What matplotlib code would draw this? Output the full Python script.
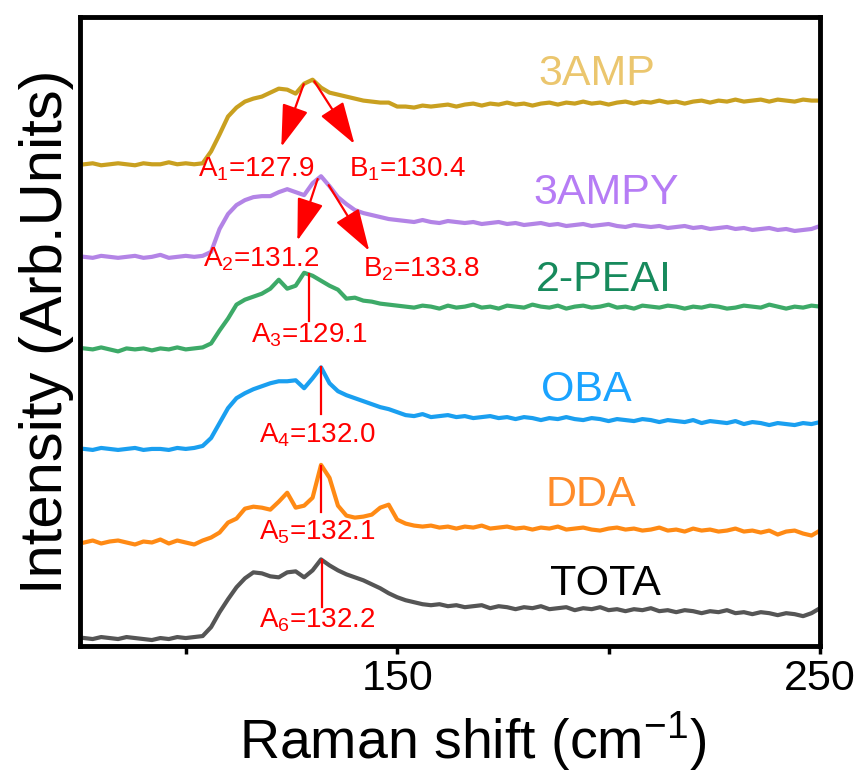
import numpy as np
import matplotlib
matplotlib.use('Agg')
import matplotlib.pyplot as plt

plt.rcParams['font.family'] = ['Liberation Sans', 'DejaVu Sans']
plt.rcParams['mathtext.fontset'] = 'custom'
plt.rcParams['mathtext.rm'] = 'Liberation Sans'
plt.rcParams['mathtext.it'] = 'Liberation Sans:italic'

# Raman shift grid (cm-1)
raman_shift = np.arange(76, 251, 2)

# intensities (arb. units, already stacked as in the figure)
amp3 = [490, 491, 489, 490, 491, 490, 489, 491, 490, 490, 492, 490, 491, 490, 491,
        503, 520, 538, 547, 553, 556, 558, 562, 566, 565, 561, 571, 575, 567, 562,
        560, 558, 556, 554, 553, 552, 552, 548,
        548, 547, 549, 548, 549, 550, 548, 550, 551, 549, 551, 550, 552, 550, 551,
        549, 551, 552, 550, 552, 551, 553, 551, 552, 550, 552, 553, 551, 553, 552,
        554, 552, 553, 551, 553, 554, 552, 554, 553, 555, 553, 554, 555, 553, 555,
        554, 553, 555, 554, 554]
ampy3 = [397, 396, 398, 397, 396, 397, 398, 396, 397, 399, 396, 397, 398, 397, 398,
         402, 425, 440, 449, 454, 457, 458, 458, 462, 465, 462, 459, 471, 478, 468,
         457, 450, 444, 441, 439, 437, 435, 434,
         433, 432, 434, 432, 431, 433, 432, 431, 432, 430, 431, 432, 430, 431, 429,
         430, 431, 429, 430, 428, 429, 430, 428, 429, 430, 428, 427, 429, 428, 427,
         428, 426, 427, 428, 426, 427, 425, 426, 427, 425, 426, 424, 425, 426, 424,
         425, 423, 424, 425, 428]
peai2 = [305, 304, 306, 304, 302, 305, 304, 305, 303, 305, 304, 306, 304, 305, 306,
         310, 323, 335, 349, 354, 357, 360, 365, 374, 365, 368, 381, 378, 373, 368,
         364, 355, 356, 353, 352, 350, 349, 348,
         347, 346, 348, 347, 345, 348, 346, 347, 349, 346, 347, 345, 348, 347, 346,
         349, 347, 346, 348, 345, 347, 348, 346, 347, 349, 346, 347, 345, 348, 347,
         346, 348, 347, 345, 347, 346, 348, 347, 345, 346, 348, 347, 346, 349, 347,
         345, 347, 346, 348, 347]
oba = [204, 203, 205, 204, 203, 204, 205, 203, 204, 204, 203, 205, 204, 205, 207,
       215, 230, 245, 255, 260, 264, 267, 270, 272, 272, 273, 265, 275, 286, 270,
       262, 258, 255, 252, 249, 246, 244, 241,
       238, 237, 239, 236, 237, 238, 236, 237, 235, 236, 237, 235, 236, 234, 236,
       235, 233, 235, 234, 236, 234, 233, 235, 234, 232, 234, 233, 232, 234, 233,
       231, 233, 232, 231, 233, 230, 232, 231, 230, 232, 229, 231, 230, 228, 230,
       229, 228, 230, 229, 231]
dda = [110, 112, 109, 111, 112, 110, 108, 111, 110, 113, 109, 112, 110, 108, 112,
       115, 120, 130, 134, 144, 146, 145, 143, 151, 160, 145, 147, 155, 188, 175,
       147, 137, 135, 136, 138, 145, 148, 133,
       129, 127, 126, 127, 125, 126, 124, 126, 125, 127, 124, 125, 126, 124, 125,
       123, 125, 124, 126, 123, 124, 125, 123, 122, 124, 125, 123, 124, 122, 123,
       125, 122, 123, 121, 124, 122, 123, 121, 122, 124, 121, 122, 120, 122, 118,
       121, 122, 119, 117, 122]
tota = [14, 13, 15, 14, 13, 15, 14, 13, 12, 14, 13, 15, 14, 15, 16,
        25, 40, 53, 65, 74, 80, 79, 76, 75, 80, 81, 75, 82, 93, 87,
        82, 78, 75, 72, 68, 64, 59, 55,
        52, 50, 48, 47, 48, 46, 47, 45, 46, 47, 44, 46, 45, 43, 45,
        44, 46, 43, 44, 45, 42, 44, 43, 45, 42, 43, 41, 43, 42, 44,
        41, 42, 40, 42, 41, 39, 41, 40, 42, 39, 40, 38, 40, 39, 37,
        39, 38, 36, 39, 44]

names = ['3AMP', '3AMPY', '2-PEAI', 'OBA', 'DDA', 'TOTA']
spectra = [amp3, ampy3, peai2, oba, dda, tota]
line_colors = ['#C9A020', '#B384E6', '#3DAA68', '#1A9FF0', '#FF8A14', '#555555']
text_colors = ['#EBC66E', '#B67CF5', '#178A5C', '#1AA3FF', '#FF8C2A', '#000000']
label_pos = [(197.2, 581), (199.5, 461), (198.8, 374), (194.8, 263), (195.8, 158), (199.3, 68)]

# peak assignments (cm-1)
arrow_peaks = [('A$_\\mathregular{1}$', 127.9, 0, (-5.3, -63), (116.7, 485)),
               ('B$_\\mathregular{1}$', 130.4, 0, (9.5, -63), (152.4, 485)),
               ('A$_\\mathregular{2}$', 131.2, 1, (-4.8, -62), (117.9, 395)),
               ('B$_\\mathregular{2}$', 133.8, 1, (9.6, -66), (155.7, 385))]
line_peaks = [('A$_\\mathregular{3}$', 129.1, 2, (129.2, 318)),
              ('A$_\\mathregular{4}$', 132.0, 3, (131.1, 218)),
              ('A$_\\mathregular{5}$', 132.1, 4, (131.1, 120)),
              ('A$_\\mathregular{6}$', 132.2, 5, (131.1, 32))]

fig = plt.figure(figsize=(8.68, 7.72), dpi=100)
ax = fig.add_axes([0.0922, 0.1632, 0.8525, 0.8148])

for y, c in zip(spectra, line_colors):
    ax.plot(raman_shift, y, color=c, lw=3)

for name, (tx, ty), c in zip(names, label_pos, text_colors):
    ax.text(tx, ty, name, color=c, fontsize=31, ha='center', va='center')

for lab, val, idx, (dx, dy), (tx, ty) in arrow_peaks:
    y0 = np.interp(val, raman_shift, spectra[idx])
    ax.annotate('', xy=(val + dx, y0 + dy), xytext=(val, y0),
                arrowprops=dict(arrowstyle='-|>,head_length=1.2,head_width=0.38',
                                color='red', lw=1.6, mutation_scale=22,
                                shrinkA=0, shrinkB=0))
    ax.text(tx, ty, f'{lab}={val:.1f}', color='red', fontsize=20, ha='center', va='center')

for lab, val, idx, (tx, ty) in line_peaks:
    y0 = np.interp(val, raman_shift, spectra[idx])
    ax.plot([val, val], [y0, y0 - 47], color='red', lw=1.6)
    ax.text(tx, ty, f'{lab}={val:.1f}', color='red', fontsize=20, ha='center', va='center')

ax.set_xlim(75, 250)
ax.set_ylim(6, 638)
ax.set_xticks([100, 150, 200, 250])
ax.set_xticklabels(['', '150', '', '250'])
ax.set_yticks([])
ax.tick_params(axis='x', direction='out', length=6, width=2.5, labelsize=31, pad=3)
for s in ax.spines.values():
    s.set_linewidth(3.5)

ax.set_xlabel('Raman shift (cm$^{\\mathregular{-1}}$)', fontsize=40, labelpad=0)
ax.xaxis.set_label_coords(0.53, -0.1)
ax.set_ylabel('Intensity (Arb.Units)', fontsize=43, labelpad=4)

fig.savefig('out.png', dpi=100)
